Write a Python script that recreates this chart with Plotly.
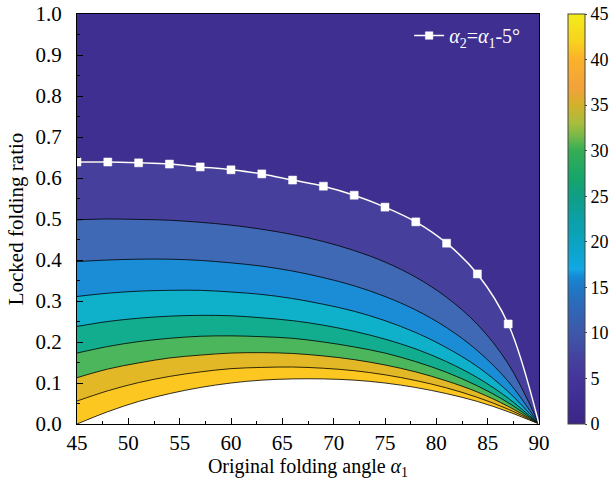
import plotly.graph_objects as go

# Original folding angle α1 (deg)
alpha1 = [45, 48, 51, 54, 57, 60, 63, 66, 69, 72, 75, 78, 81, 84, 87, 90]

# Locked folding ratio along the contour lines of α1 - α2 (deg)
ratio_d5 = [0.639, 0.639, 0.637, 0.634, 0.627, 0.620, 0.610, 0.595, 0.580, 0.558, 0.529, 0.493, 0.441, 0.366, 0.244, 0.0]
ratio_d10 = [0.498, 0.500, 0.499, 0.497, 0.492, 0.485, 0.475, 0.462, 0.445, 0.423, 0.395, 0.358, 0.309, 0.243, 0.147, 0.0]
ratio_d15 = [0.396, 0.400, 0.402, 0.402, 0.399, 0.393, 0.385, 0.373, 0.357, 0.337, 0.311, 0.278, 0.235, 0.179, 0.104, 0.0]
ratio_d20 = [0.311, 0.319, 0.324, 0.326, 0.326, 0.322, 0.316, 0.306, 0.292, 0.275, 0.252, 0.223, 0.186, 0.140, 0.079, 0.0]
ratio_d25 = [0.238, 0.250, 0.258, 0.263, 0.265, 0.264, 0.259, 0.252, 0.241, 0.226, 0.207, 0.183, 0.152, 0.113, 0.063, 0.0]
ratio_d30 = [0.173, 0.189, 0.201, 0.209, 0.214, 0.215, 0.213, 0.209, 0.200, 0.188, 0.173, 0.152, 0.126, 0.093, 0.052, 0.0]
ratio_d35 = [0.113, 0.134, 0.149, 0.161, 0.168, 0.173, 0.174, 0.172, 0.166, 0.157, 0.144, 0.127, 0.105, 0.078, 0.043, 0.0]
ratio_d40 = [0.056, 0.081, 0.101, 0.116, 0.127, 0.135, 0.138, 0.139, 0.136, 0.130, 0.120, 0.106, 0.088, 0.065, 0.036, 0.0]
ratio_d45 = [0.0, 0.030, 0.055, 0.074, 0.089, 0.100, 0.107, 0.110, 0.110, 0.107, 0.100, 0.089, 0.074, 0.055, 0.030, 0.0]

contour_levels = [5, 10, 15, 20, 25, 30, 35, 40, 45]
contour_ratios = [ratio_d5, ratio_d10, ratio_d15, ratio_d20, ratio_d25,
                  ratio_d30, ratio_d35, ratio_d40, ratio_d45]

colorbar_ticks = [0, 5, 10, 15, 20, 25, 30, 35, 40, 45]
x_ticks = [45, 50, 55, 60, 65, 70, 75, 80, 85, 90]
y_ticks = [0.0, 0.1, 0.2, 0.3, 0.4, 0.5, 0.6, 0.7, 0.8, 0.9, 1.0]

# band colours: 0-5 (background), then the band just below each contour
band_top = "#3e2f90"
band_below = ["#46409c", "#3f69b4", "#1b8dd6", "#0fb0c9", "#12ad8e",
              "#4bb65b", "#e3b826", "#fdc722", "#ffffff"]

parula_like = [
    [0.000, "#3b2686"], [0.044, "#3f2b90"], [0.111, "#44359b"],
    [0.155, "#45409e"], [0.222, "#3e58a8"], [0.289, "#2c69b8"],
    [0.333, "#1e79c6"], [0.360, "#168ad4"], [0.378, "#12a8e6"],
    [0.400, "#0fa6d6"], [0.444, "#0ba3c2"], [0.500, "#0ba0a6"],
    [0.556, "#0f9f84"], [0.600, "#17a56a"], [0.667, "#35ad55"],
    [0.700, "#72b84a"], [0.733, "#a8bd3e"], [0.778, "#d3b02c"],
    [0.820, "#f3a23a"], [0.889, "#fbb12a"], [0.933, "#f8d21f"],
    [1.000, "#f3ec1a"],
]

FONT = "Liberation Serif"
TICK_SIZE = 21

fig = go.Figure()

# filled bands: each contour covers everything below it with the next band colour
for lvl, ratios, col in zip(contour_levels, contour_ratios, band_below):
    fig.add_trace(go.Scatter(
        x=alpha1, y=ratios, mode="lines",
        line=dict(color="black", width=0.8, shape="spline", smoothing=1.0),
        fill="tozeroy", fillcolor=col,
        hoverinfo="skip", showlegend=False,
    ))

# α2 = α1 - 5° curve
marker_sizes = [8] * (len(alpha1) - 1) + [0]
fig.add_trace(go.Scatter(
    x=alpha1, y=ratio_d5, mode="lines+markers",
    name="<i>α</i><sub>2</sub>=<i>α</i><sub>1</sub>-5°",
    line=dict(color="#ffffff", width=1.5, shape="spline", smoothing=1.0),
    marker=dict(symbol="square", color="#ffffff", size=marker_sizes,
                opacity=1, line=dict(width=0.5, color="#ffffff")),
    opacity=1,
    hoverinfo="skip",
))

# colour bar
fig.add_trace(go.Scatter(
    x=[45, 45], y=[0, 0], mode="markers",
    marker=dict(size=0.1, opacity=0, color=[0, 45], cmin=0, cmax=45,
                colorscale=parula_like, showscale=True,
                colorbar=dict(
                    x=1.062, xanchor="left", xpad=0, ypad=0,
                    y=0.5, yanchor="middle", len=1.0, lenmode="fraction",
                    thickness=17, outlinewidth=1, outlinecolor="#444",
                    tickmode="array", tickvals=colorbar_ticks,
                    ticks="outside", ticklen=2, tickcolor="#444",
                    tickfont=dict(family=FONT, size=18, color="black"),
                )),
    hoverinfo="skip", showlegend=False,
))

fig.update_layout(
    width=610, height=487,
    margin=dict(l=77, r=71, t=14, b=63, autoexpand=False),
    paper_bgcolor="white", plot_bgcolor=band_top,
    font=dict(family=FONT, size=18, color="black"),
    showlegend=True,
    legend=dict(x=0.97, xanchor="right", y=0.995, yanchor="top",
                bgcolor="rgba(0,0,0,0)", borderwidth=0,
                font=dict(family=FONT, size=20, color="white")),
)

fig.update_xaxes(
    range=[45, 90], tickmode="array", tickvals=x_ticks,
    ticks="inside", ticklen=6, tickcolor="black", tickwidth=1,
    minor=dict(ticks="inside", ticklen=3, dtick=2.5, tick0=45, tickcolor="black"),
    showline=True, linecolor="black", linewidth=1.2, mirror=True,
    showgrid=False, zeroline=False,
    tickfont=dict(family=FONT, size=TICK_SIZE),
    title=dict(text="Original folding angle <i>α</i><sub>1</sub>",
               font=dict(family=FONT, size=20), standoff=4),
)
fig.update_yaxes(
    range=[0, 1], tickmode="array", tickvals=y_ticks, tickformat=".1f",
    ticks="inside", ticklen=6, tickcolor="black", tickwidth=1,
    minor=dict(ticks="inside", ticklen=3, dtick=0.05, tick0=0, tickcolor="black"),
    showline=True, linecolor="black", linewidth=1.2, mirror=True,
    showgrid=False, zeroline=False,
    tickfont=dict(family=FONT, size=TICK_SIZE), ticklabelstandoff=10,
    title=dict(text="Locked folding ratio", font=dict(family=FONT, size=21),
               standoff=6),
)

fig.write_html("out.html")
